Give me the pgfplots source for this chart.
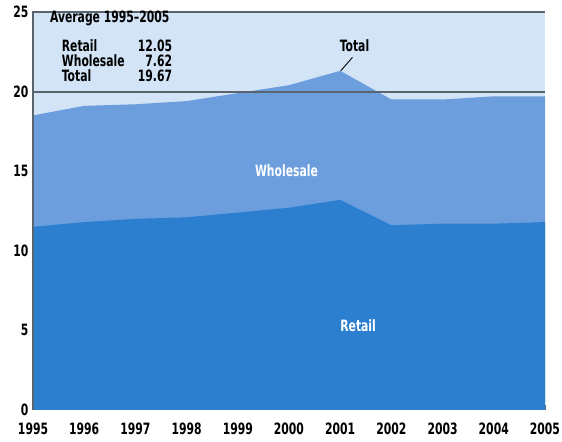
\documentclass[border=0pt]{standalone}
\usepackage{fontspec}
\setmainfont{DejaVu Sans Condensed}
\usepackage{pgfplots}
\pgfplotsset{compat=1.18}

\definecolor{bgblue}{RGB}{210,228,246}
\definecolor{wholeblue}{RGB}{108,158,222}
\definecolor{retailblue}{RGB}{44,126,206}
\definecolor{linegray}{RGB}{90,100,110}

\newcommand{\tall}[1]{\scalebox{1}[1.3]{#1}}

% sales, billions
\pgfplotstableread{
year total retail
1995 18.5 11.5
1996 19.1 11.8
1997 19.2 12.0
1998 19.4 12.1
1999 19.9 12.4
2000 20.4 12.7
2001 21.3 13.2
2002 19.5 11.6
2003 19.5 11.7
2004 19.7 11.7
2005 19.7 11.8
}\sales

\begin{document}
\begin{tikzpicture}
\begin{axis}[
    scale only axis,
    width=512pt, height=398pt,
    xmin=1995, xmax=2005,
    ymin=0, ymax=25,
    xtick={1995,...,2005},
    ytick={0,5,...,25},
    xticklabel={\tall{\pgfmathprintnumber[1000 sep={}]{\tick}}},
    yticklabel={\tall{\pgfmathprintnumber{\tick}}},
    /pgf/number format/assume math mode=true,
    ticklabel style={font=\bfseries\fontsize{12}{12}\selectfont, text=black},
    xticklabel style={yshift=-9pt},
    yticklabel style={xshift=-1pt},
    axis line style={draw=none},
    axis background/.style={fill=bgblue},
    xtick style={draw=linegray, line width=1.2pt},
    major tick length=5pt,
    tick align=inside,
    xtick pos=bottom,
    ytick style={draw=none},
    clip=false,
]
\addplot[fill=wholeblue, draw=none] table[x=year, y=total] {\sales} \closedcycle;
\addplot[fill=retailblue, draw=none] table[x=year, y=retail] {\sales} \closedcycle;

% average line at 20
\addplot[draw=linegray, line width=2pt] coordinates {(1995,20) (2005,20)};

% frame: left and top
\draw[linegray, line width=1.2pt] (axis cs:1995,0) -- (axis cs:1995,25) -- (axis cs:2005,25);

% text box
\begin{scope}[every node/.style={font=\bfseries\fontsize{12}{12}\selectfont, inner sep=0pt}]
\node[anchor=west] at (axis cs:1995.33,24.6) {\tall{Average 1995–2005}};
\node[anchor=west] at (axis cs:1995.56,22.88) {\tall{Retail}};
\node[anchor=west] at (axis cs:1995.56,21.94) {\tall{Wholesale}};
\node[anchor=west] at (axis cs:1995.56,21.0) {\tall{Total}};
\node[anchor=east] at (axis cs:1997.72,22.88) {\tall{12.05}};
\node[anchor=east] at (axis cs:1997.72,21.94) {\tall{7.62}};
\node[anchor=east] at (axis cs:1997.72,21.0) {\tall{19.67}};

% labels
\node at (axis cs:2001.28,22.9) {\tall{Total}};
\node[text=white] at (axis cs:1999.95,15.05) {\tall{Wholesale}};
\node[text=white] at (axis cs:2001.35,5.27) {\tall{Retail}};
\end{scope}
\draw[black, line width=0.9pt] (axis cs:2001.24,22.15) -- (axis cs:2001.01,21.3);

\coordinate (bbl) at (axis description cs:-0.0645,-0.0804);
\coordinate (btr) at (axis description cs:1.0332,1.030);
\end{axis}
\pgfresetboundingbox
\path (bbl) rectangle (btr);
\end{tikzpicture}
\end{document}
